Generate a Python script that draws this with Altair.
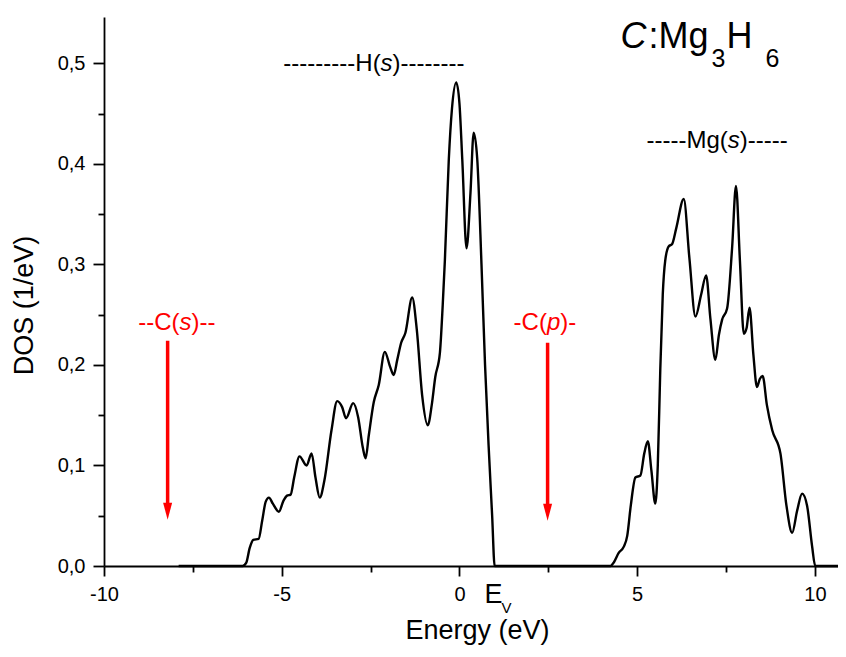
import altair as alt
import pandas as pd

# ---- DOS curve (energy in eV, DOS in 1/eV) ----
energy = [-7.9, -6.1, -6.0, -5.9, -5.8, -5.65, -5.55, -5.45, -5.36, -5.25, -5.08, -4.95, -4.85, -4.75,
          -4.65, -4.5, -4.3, -4.16, -4.05, -3.93, -3.8, -3.6, -3.44, -3.3, -3.19, -2.99, -2.85, -2.72,
          -2.64, -2.55, -2.41, -2.27, -2.10, -1.95, -1.85, -1.75, -1.64, -1.52, -1.33, -1.2, -1.05,
          -0.89, -0.78, -0.68, -0.55, -0.47, -0.41, -0.30, -0.21, -0.09, 0.0, 0.08, 0.20, 0.31, 0.40,
          0.50, 0.62, 0.72, 0.82, 0.92, 0.99,
          4.25, 4.35, 4.48, 4.62, 4.72, 4.82, 4.95, 5.09, 5.20, 5.30, 5.40, 5.51, 5.58, 5.65, 5.72,
          5.79, 5.89, 5.98, 6.10, 6.31, 6.47, 6.64, 6.80, 6.94, 7.06, 7.20, 7.30, 7.39, 7.53, 7.67,
          7.78, 7.89, 8.00, 8.08, 8.16, 8.27, 8.37, 8.45, 8.53, 8.65, 8.80, 9.03, 9.20, 9.36, 9.50,
          9.64, 9.78, 9.92, 10.01, 10.65]
dos = [0.0, 0.0, 0.003, 0.018, 0.026, 0.027, 0.045, 0.064, 0.068, 0.062, 0.054, 0.065, 0.070, 0.071,
       0.088, 0.109, 0.100, 0.112, 0.088, 0.068, 0.085, 0.135, 0.164, 0.158, 0.147, 0.162, 0.148, 0.118,
       0.107, 0.130, 0.163, 0.180, 0.213, 0.198, 0.190, 0.205, 0.222, 0.232, 0.267, 0.235, 0.170,
       0.140, 0.160, 0.188, 0.212, 0.260, 0.304, 0.404, 0.455, 0.481, 0.460, 0.404, 0.316, 0.371, 0.431,
       0.405, 0.300, 0.200, 0.120, 0.050, 0.0,
       0.0, 0.004, 0.013, 0.019, 0.030, 0.060, 0.088, 0.090, 0.112, 0.124, 0.095, 0.062, 0.100, 0.195, 0.270,
       0.304, 0.318, 0.320, 0.336, 0.365, 0.306, 0.248, 0.270, 0.289, 0.246, 0.205, 0.230, 0.245, 0.256, 0.316,
       0.378, 0.304, 0.231, 0.237, 0.257, 0.210, 0.178, 0.186, 0.189, 0.160, 0.135, 0.112, 0.060, 0.033, 0.055,
       0.072, 0.060, 0.020, 0.0, 0.0]

# ---- red arrows (C states) ----
arrow_x = [-8.21, 2.48]
arrow_top = [0.224, 0.222]
arrow_tip = [0.046, 0.045]

x_ticks = [-10, -7.5, -5, -2.5, 0, 2.5, 5, 7.5, 10]
y_ticks = [0.0, 0.05, 0.1, 0.15, 0.2, 0.25, 0.3, 0.35, 0.4, 0.45, 0.5]

FONT = "Liberation Sans"
xs = alt.Scale(domain=[-10, 10.65], nice=False, zero=False)
ys = alt.Scale(domain=[0, 0.546], nice=False)

x_major = "abs(round(datum.value*2)) % 10 == 0"
y_major = "round(datum.value*20) % 2 == 0"

xa = alt.Axis(
    values=x_ticks, title="Energy (eV)", grid=False,
    labelExpr=f"{x_major} ? ('' + round(datum.value)) : ''",
    tickSize={"condition": {"test": x_major, "value": 10}, "value": 6},
    labelPadding=8, labelFontSize=20, labelFont=FONT, labelColor="black",
    domainColor="black", domainWidth=1.8, tickColor="black", tickWidth=1.8,
    titleFontSize=27, titleFont=FONT, titleFontWeight="normal", titleColor="black",
    titleX=373, titleY=72, titleBaseline="alphabetic", labelFlush=False, labelOverlap=False)
ya = alt.Axis(
    values=y_ticks, title="DOS (1/eV)", grid=False,
    labelExpr=f"{y_major} ? replace(format(datum.value, '.1f'), '.', ',') : ''",
    tickSize={"condition": {"test": y_major, "value": 11}, "value": 6},
    labelPadding=8, labelFontSize=20, labelFont=FONT, labelColor="black",
    domainColor="black", domainWidth=1.8, tickColor="black", tickWidth=1.8,
    titleFontSize=27, titleFont=FONT, titleFontWeight="normal", titleColor="black",
    titleX=-80, titleY=288, titleBaseline="middle", labelFlush=False, labelOverlap=False)

curve = pd.DataFrame({"energy": energy, "dos": dos})
line = alt.Chart(curve).mark_line(color="black", strokeWidth=2.4, interpolate="monotone").encode(
    x=alt.X("energy:Q", scale=xs, axis=xa),
    y=alt.Y("dos:Q", scale=ys, axis=ya),
)

arrows = pd.DataFrame({"energy": arrow_x, "top": arrow_top, "tip": arrow_tip})
shafts = alt.Chart(arrows).mark_rule(color="#ff0000", strokeWidth=3.5, y2Offset=-14).encode(
    x=alt.X("energy:Q", scale=xs, axis=xa),
    y=alt.Y("top:Q", scale=ys, axis=ya),
    y2="tip:Q",
)
heads = alt.Chart(arrows).mark_point(
    shape="M-0.53,-2L0.53,-2L0,0Z", size=289, filled=True, color="#ff0000", opacity=1, strokeWidth=0
).encode(
    x=alt.X("energy:Q", scale=xs, axis=xa),
    y=alt.Y("tip:Q", scale=ys, axis=ya),
)

WIDTHS = {"-": 0.333, "C": 0.722, "(": 0.333, ")": 0.333, "s": 0.5, "p": 0.556,
          "H": 0.722, "M": 0.833, "g": 0.556}


def text_piece(t, x, y, size, color, style="normal", dx=0, dy=0):
    df = pd.DataFrame({"energy": [x], "dos": [y], "t": [t]})
    return alt.Chart(df).mark_text(
        align="left", baseline="alphabetic", font=FONT, fontSize=size, fontStyle=style,
        color=color, dx=dx, dy=dy
    ).encode(
        x=alt.X("energy:Q", scale=xs, axis=xa),
        y=alt.Y("dos:Q", scale=ys, axis=ya),
        text="t:N",
    )


def label(pieces, cx, y, size, color):
    total = sum(WIDTHS[c] for p, _ in pieces for c in p) * size
    off = -total / 2
    out = []
    for p, st in pieces:
        out.append(text_piece(p, cx, y, size, color, st, dx=off))
        off += sum(WIDTHS[c] for c in p) * size
    return out


layers = [line, shafts, heads]
layers += label([("---------H(", "normal"), ("s", "italic"), (")--------", "normal")], -2.405, 0.492, 24, "black")
layers += label([("-----Mg(", "normal"), ("s", "italic"), (")-----", "normal")], 7.25, 0.4155, 24, "black")
layers += label([("--C(", "normal"), ("s", "italic"), (")--", "normal")], -7.95, 0.235, 24, "#ff0000")
layers += label([("-C(", "normal"), ("p", "italic"), (")-", "normal")], 2.405, 0.235, 24, "#ff0000")

# title C:Mg3H6
layers += [
    text_piece("C", 4.5, 0.515, 36, "black", "italic", dx=1),
    text_piece(":Mg", 4.5, 0.515, 36, "black", dx=29),
    text_piece("3", 4.5, 0.515, 25, "black", dx=92, dy=19),
    text_piece("H", 4.5, 0.515, 36, "black", dx=107),
    text_piece("6", 4.5, 0.515, 25, "black", dx=146, dy=19),
]
# E_V under the axis
layers += [
    text_piece("E", 0, 0, 27, "black", dx=25, dy=37),
    text_piece("V", 0, 0, 15, "black", dx=42, dy=47),
]

chart = alt.layer(*layers).properties(
    width=734, height=549,
    autosize=alt.AutoSizeParams(type="none"),
    padding={"left": 96, "top": 9, "right": 0, "bottom": 80},
    background="white",
).configure_view(stroke=None)

chart.save("out.html", embed_options={"renderer": "svg", "actions": False})
